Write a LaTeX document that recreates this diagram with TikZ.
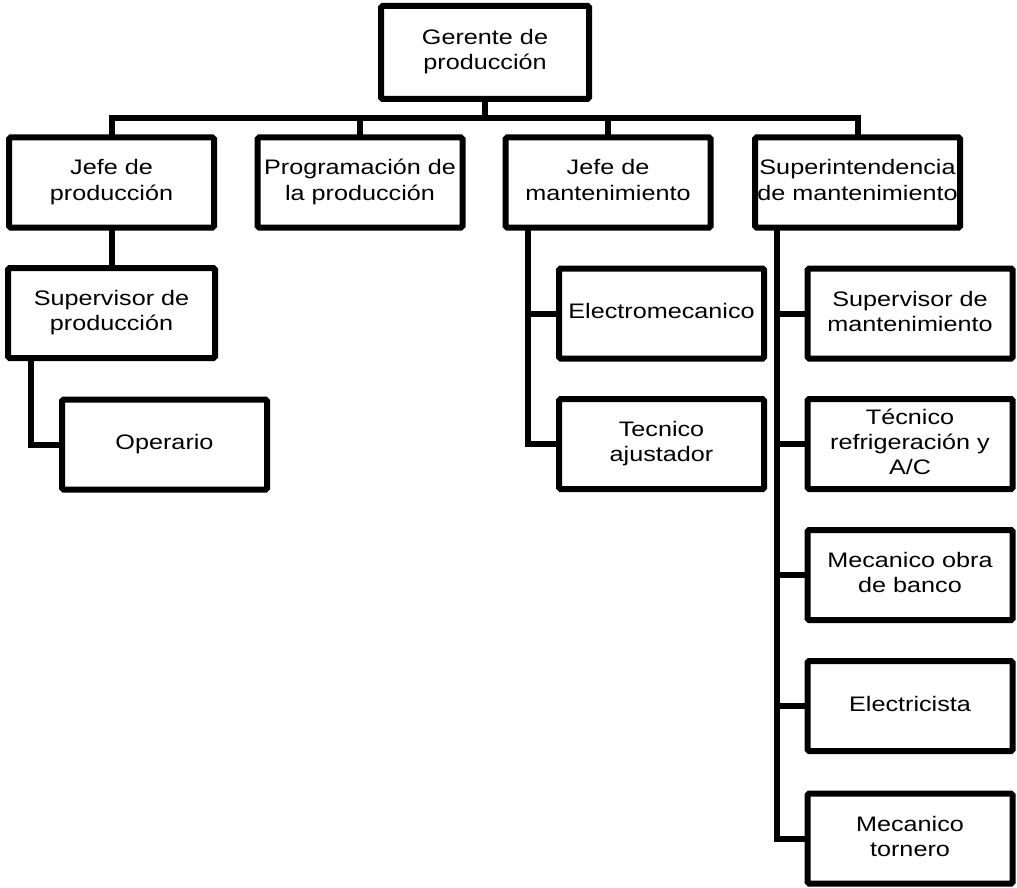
\documentclass[tikz,border=0pt]{standalone}
\usepackage{fontspec}
\usepackage{graphicx}
\setmainfont{Liberation Sans}
\newcommand\lbl[1]{\scalebox{1.2}[1]{\begin{tabular}{@{}c@{}}#1\end{tabular}}}
\tikzset{
  box/.style={draw=black, line width=6pt, fill=white, rectangle, minimum width=205pt, minimum height=90pt, inner sep=0pt, outer sep=0pt, rounded corners=1.5pt, font=\fontsize{21}{25}\selectfont, text=black},
  link/.style={draw=black, line width=6pt, line cap=rect}
}
\begin{document}
\begin{tikzpicture}[x=1pt,y=-1pt]
\useasboundingbox (0,0) rectangle (1017,888);
% nodes
\node[box, minimum width=208pt, minimum height=93pt] (gp) at (485,52.5) {\lbl{Gerente de\\producción}};
\node[box] (jp) at (111.5,182.5) {\lbl{Jefe de\\producción}};
\node[box] (pr) at (360,182.5) {\lbl{Programación de\\la producción}};
\node[box] (jm) at (608,182.5) {\lbl{Jefe de\\mantenimiento}};
\node[box] (si) at (857.5,182.5) {\lbl{Superintendencia\\de mantenimiento}};
\node[box, minimum width=207pt] (sp) at (111.5,313) {\lbl{Supervisor de\\producción}};
\node[box] (op) at (164.5,444.5) {\lbl{Operario}};
\node[box] (el) at (661.5,313.5) {\lbl{Electromecanico}};
\node[box] (ta) at (661.5,444) {\lbl{Tecnico\\ajustador}};
\node[box] (sm) at (910,313.5) {\lbl{Supervisor de\\mantenimiento}};
\node[box] (tr) at (910,444) {\lbl{Técnico\\refrigeración y\\A/C}};
\node[box] (mb) at (910,575) {\lbl{Mecanico obra\\de banco}};
\node[box] (ec) at (910,706) {\lbl{Electricista}};
\node[box] (mt) at (910,838.5) {\lbl{Mecanico\\tornero}};
\coordinate (bus) at (485,118);
% connectors
\draw[link] (gp.south) -- (bus);
\draw[link, line cap=butt] (jp.north) |- (bus) -| (si.north);
\draw[link, line cap=butt] (pr.north) -- (pr.north |- bus);
\draw[link, line cap=butt] (jm.north) -- (jm.north |- bus);
\draw[link, line cap=butt] (jp.south) -- (sp.north);
\draw[link, line cap=butt] ([xshift=23pt]sp.south west) |- (op.west);
\draw[link, line cap=butt] ([xshift=22pt]jm.south west) |- (ta.west);
\draw[link, line cap=butt] ([xshift=22pt]jm.south west |- el.west) -- (el.west);
\draw[link, line cap=butt] ([xshift=22pt]si.south west) |- (mt.west);
\foreach \n in {sm,tr,mb,ec}
  \draw[link, line cap=butt] ([xshift=22pt]si.south west |- \n.west) -- (\n.west);
\end{tikzpicture}
\end{document}
